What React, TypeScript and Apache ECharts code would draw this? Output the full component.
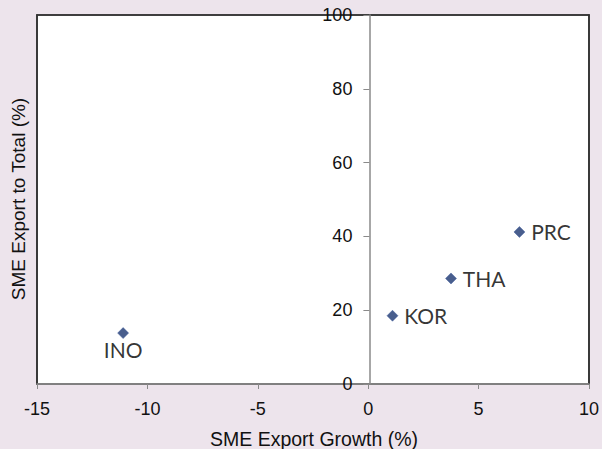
import React, { useEffect, useRef } from "react";
import * as echarts from "echarts";

const economies = ["INO", "KOR", "THA", "PRC"];
const exportGrowth = [-11.1, 1.1, 3.75, 6.85];
const exportShare = [13.8, 18.5, 28.6, 41.2];
const labelPositions = ["bottom", "right", "right", "right"];

const xMin = -15;
const xMax = 10;
const xStep = 5;
const yMin = 0;
const yMax = 100;
const yStep = 20;

const xTitle = "SME Export Growth (%)";
const yTitle = "SME Export to Total (%)";

const W = 602;
const H = 449;
const GRID = { left: 37, right: 11, top: 15, bottom: 65 };

export default function App() {
  const ref = useRef<HTMLDivElement>(null);

  useEffect(() => {
    if (!ref.current) return;
    const chart = echarts.init(ref.current, undefined, { renderer: "svg" });
    const data = economies.map((name, i) => ({
      name,
      value: [exportGrowth[i], exportShare[i]],
      label: {
        position: labelPositions[i],
        distance: labelPositions[i] === "bottom" ? 0 : 6,
      },
    }));
    const axisFont = "Liberation Sans";
    const plotW = W - GRID.left - GRID.right;
    const zeroOffset = -((0 - xMin) / (xMax - xMin)) * plotW;
    const frameLine = { show: true, onZero: false, lineStyle: { color: "#333333", width: 1.6 } };
    const hidden = {
      axisTick: { show: false },
      axisLabel: { show: false },
      splitLine: { show: false },
    };
    chart.setOption({
      animation: false,
      backgroundColor: "#EDE4EC",
      grid: {
        ...GRID,
        show: true,
        backgroundColor: "#ffffff",
        borderColor: "#333333",
        borderWidth: 1.6,
      },
      xAxis: [
        {
          type: "value",
          min: xMin,
          max: xMax,
          interval: xStep,
          position: "bottom",
          axisLine: { show: true, onZero: false, lineStyle: { color: "#8a8a8a", width: 1.5 } },
          axisTick: { show: true, length: 5, lineStyle: { color: "#8a8a8a", width: 1 } },
          axisLabel: { fontFamily: axisFont, fontSize: 18, color: "#111", margin: 16 },
          splitLine: { show: false },
          z: 3,
        },
        {
          type: "value",
          min: xMin,
          max: xMax,
          interval: xStep,
          position: "top",
          axisLine: frameLine,
          ...hidden,
        },
      ],
      yAxis: [
        {
          type: "value",
          min: yMin,
          max: yMax,
          interval: yStep,
          position: "left",
          offset: zeroOffset,
          axisLine: { show: true, onZero: false, lineStyle: { color: "#8a8a8a", width: 1.5 } },
          axisTick: { show: true, length: 6, lineStyle: { color: "#8a8a8a", width: 1 } },
          axisLabel: { fontFamily: axisFont, fontSize: 18, color: "#111", margin: 17 },
          splitLine: { show: false },
          z: 3,
        },
        {
          type: "value",
          min: yMin,
          max: yMax,
          interval: yStep,
          position: "right",
          axisLine: frameLine,
          ...hidden,
        },
        {
          type: "value",
          min: yMin,
          max: yMax,
          interval: yStep,
          position: "left",
          offset: 0,
          axisLine: frameLine,
          ...hidden,
        },
      ],
      graphic: [
        {
          type: "text",
          x: 314,
          y: 439,
          style: {
            text: xTitle,
            font: `19.5px ${axisFont}`,
            fill: "#111",
            textAlign: "center",
            textVerticalAlign: "middle",
          },
        },
        {
          type: "text",
          x: 18,
          y: 199,
          rotation: Math.PI / 2,
          style: {
            text: yTitle,
            font: `19px ${axisFont}`,
            fill: "#111",
            textAlign: "center",
            textVerticalAlign: "middle",
          },
        },
      ],
      series: [
        {
          type: "scatter",
          xAxisIndex: 0,
          yAxisIndex: 0,
          symbol: "diamond",
          symbolSize: 11,
          itemStyle: { color: "#1C3670", borderColor: "#3D5A9C", borderWidth: 0.6 },
          label: {
            show: true,
            formatter: "{b}",
            fontFamily: "Lato",
            fontSize: 21,
            color: "#000",
          },
          data,
          z: 5,
        },
      ],
    });
    return () => chart.dispose();
  }, []);

  return (
    <div
      ref={ref}
      style={{ position: "fixed", left: 0, top: 0, width: W, height: H }}
    />
  );
}
